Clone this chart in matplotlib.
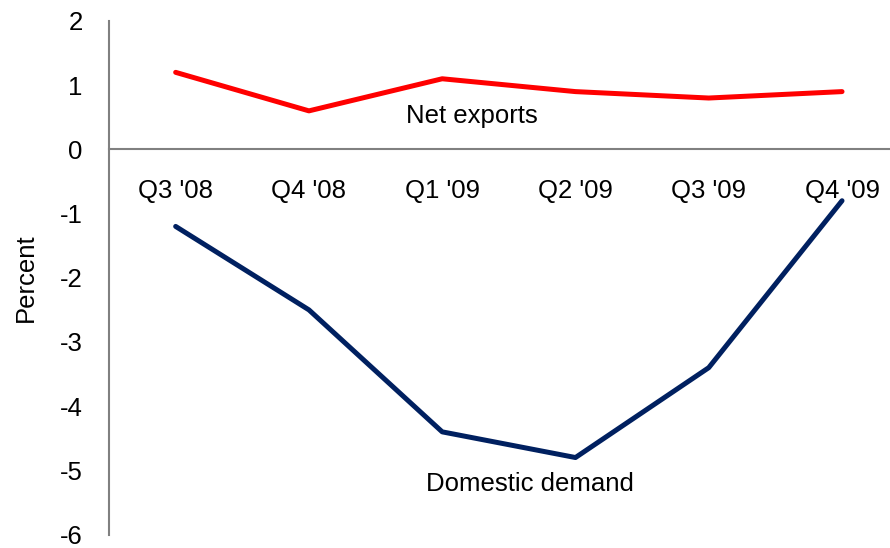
import numpy as np
import matplotlib.pyplot as plt

plt.rcParams['font.family'] = ['Liberation Sans', 'DejaVu Sans']
plt.rcParams['axes.unicode_minus'] = False

# Contributions by quarter, percent
quarters = ["Q3 '08", "Q4 '08", "Q1 '09", "Q2 '09", "Q3 '09", "Q4 '09"]
net_exports = [1.2, 0.6, 1.1, 0.9, 0.8, 0.9]
domestic_demand = [-1.2, -2.5, -4.4, -4.8, -3.4, -0.8]

fig = plt.figure(figsize=(8.9, 5.48), dpi=100)
ax = fig.add_axes([0.1225, 0.0245, 0.8775, 0.9372])

x = np.arange(len(quarters))
ax.plot(x, net_exports, color="#FF0000", linewidth=3.6, solid_capstyle='round')
ax.plot(x, domestic_demand, color="#002060", linewidth=3.6, solid_capstyle='round')

ax.set_ylim(-6, 2)
ax.set_yticks(np.arange(-6, 3, 1))
ax.set_xlim(-0.5, 5.36)
ax.set_xticks(x)
ax.set_xticklabels(quarters)

for s in ['top', 'right']:
    ax.spines[s].set_visible(False)
ax.spines['bottom'].set_position(('data', 0))
for s in ['left', 'bottom']:
    ax.spines[s].set_color('#808080')
    ax.spines[s].set_linewidth(1.5)

ax.tick_params(axis='y', length=0, pad=19, labelsize=18.5)
ax.tick_params(axis='x', length=0, pad=21, labelsize=18.5)
ax.set_ylabel("Percent", fontsize=18.5, labelpad=16)

ax.text(2.22, 0.52, "Net exports", fontsize=18.5, ha='center', va='center')
ax.text(2.66, -5.22, "Domestic demand", fontsize=18.5, ha='center', va='center')

fig.savefig("out.png", dpi=100)
